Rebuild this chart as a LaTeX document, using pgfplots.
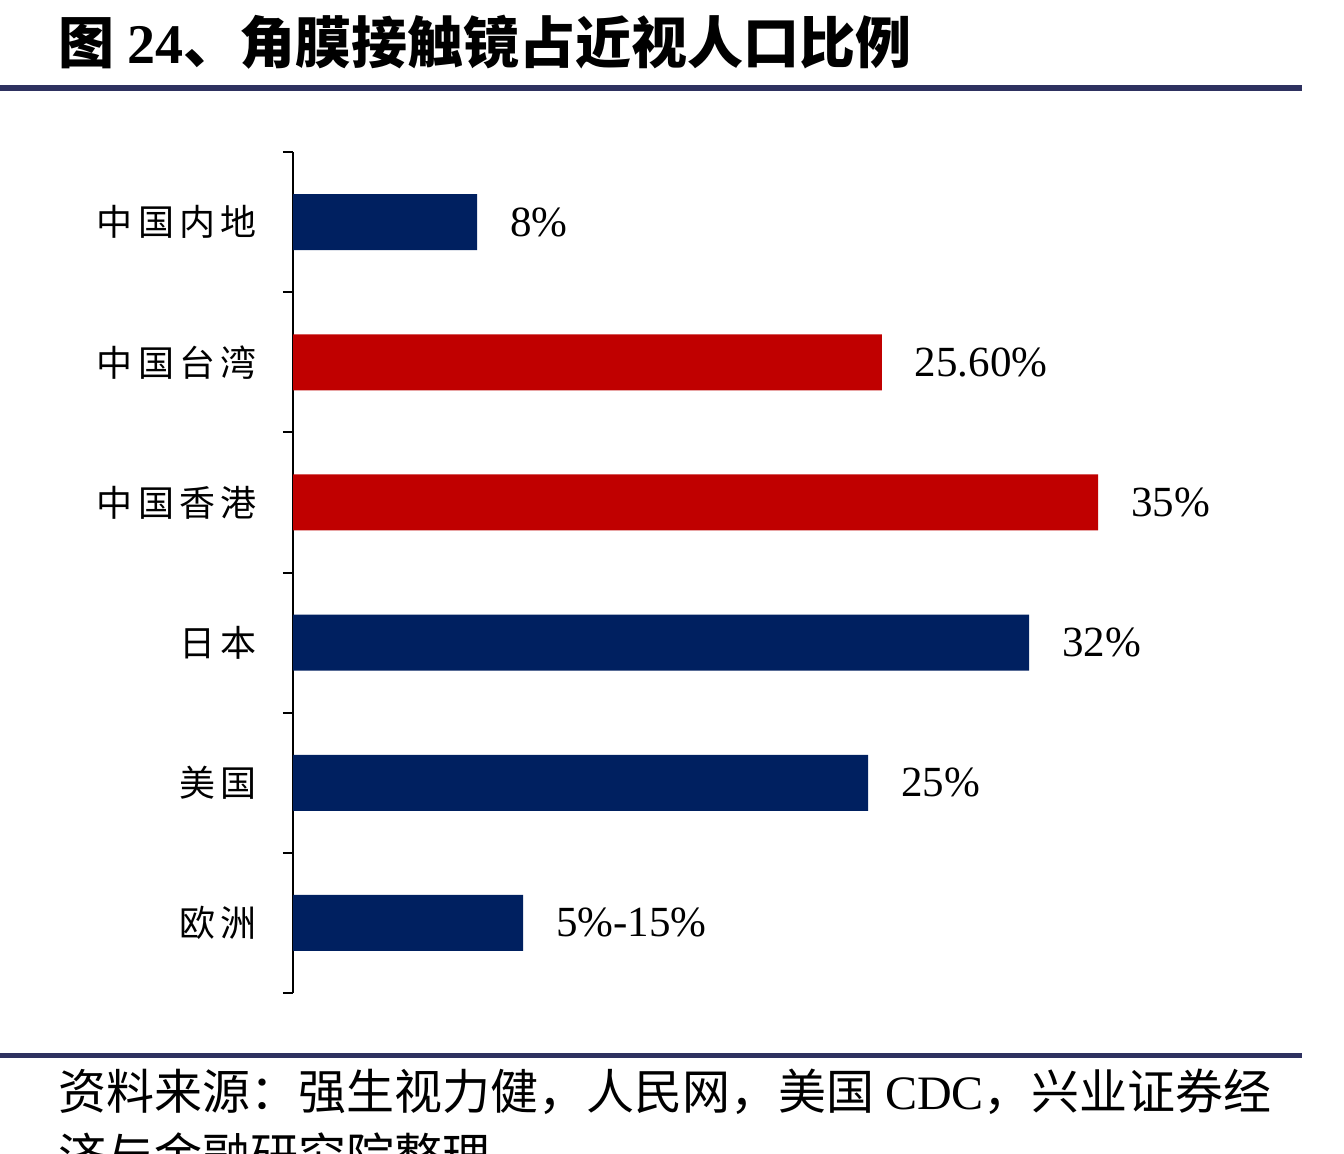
\documentclass[border=0pt]{standalone}
\usepackage{fontspec}
\setmainfont{Liberation Serif}
\newfontfamily\cjk{Noto Sans CJK SC}
\newfontfamily\cjkls[LetterSpace=15]{Noto Sans CJK SC}
\usepackage{pgfplots}
\pgfplotsset{compat=1.18}
\definecolor{navy}{RGB}{0,32,96}
\definecolor{darkred}{RGB}{192,0,0}
\definecolor{rulec}{RGB}{46,49,96}
\begin{document}
\begin{tikzpicture}[x=0.5pt,y=-0.5pt]
\path[use as bounding box] (0,0) rectangle (1344,1154);
\fill[white] (0,0) rectangle (1344,1154);
\node[anchor=west,inner sep=0] at (58,42) {\fontsize{28}{31}\selectfont\cjk\bfseries 图 {\rmfamily 24}、角膜接触镜占近视人口比例};
\fill[rulec] (0,85) rectangle (1302,91);
\fill[rulec] (0,1053) rectangle (1302,1058);
\node[anchor=west,inner sep=0] at (58,1092) {\fontsize{24}{28}\selectfont\cjk 资料来源：强生视力健，人民网，美国 {\rmfamily CDC}，兴业证券经};
\node[anchor=west,inner sep=0] at (58,1155) {\fontsize{24}{28}\selectfont\cjk 济与金融研究院整理};
\coordinate (A) at (293,993);
\begin{axis}[
  at={(A)}, anchor=south west,
  scale only axis, width=517.5pt, height=420.5pt,
  xmin=0, xmax=45, ymin=-0.5, ymax=5.5, y dir=reverse,
  axis x line=none, axis y line*=left,
  axis line style={black, line width=1pt},
  ytick={0,1,2,3,4,5},
  yticklabels={中国内地,中国台湾,中国香港,日本,美国,欧洲},
  major tick length=0pt,
  minor ytick={-0.5,0.5,1.5,2.5,3.5,4.5,5.5},
  minor tick length=5pt,
  tick align=inside,
  tick style={black, line width=1pt},
  yticklabel style={font=\fontsize{18}{22}\selectfont\cjkls, anchor=east, xshift=-14.5pt},
  xbar, bar width=28pt, bar shift=0pt,
  point meta=explicit symbolic,
  nodes near coords,
  nodes near coords style={anchor=west, font=\fontsize{21.5}{24}\selectfont, xshift=13pt, black},
  clip=false,
]
\addplot[fill=navy, draw=none] coordinates {(8,0)[8\%] (32,3)[32\%] (25,4)[25\%] (10,5)[5\%-15\%]};
\addplot[fill=darkred, draw=none] coordinates {(25.6,1)[25.60\%] (35,2)[35\%]};
\end{axis}
\end{tikzpicture}
\end{document}
